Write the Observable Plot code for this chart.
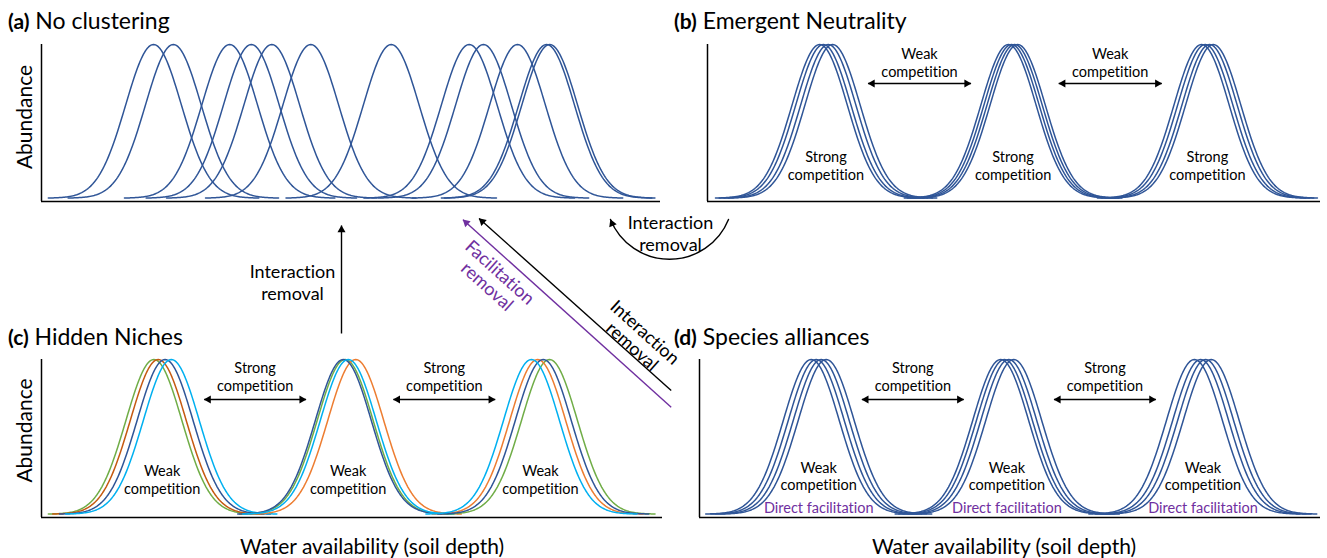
<!DOCTYPE html>
<html>
<head>
<meta charset="utf-8">
<script src="https://cdn.jsdelivr.net/npm/d3@7"></script>
<script src="https://cdn.jsdelivr.net/npm/@observablehq/plot@0.6"></script>
<style>
  html, body { margin: 0; padding: 0; background: #fff; }
  #fig { position: relative; width: 1327px; height: 558px; overflow: hidden; background: #fff; font-family: Lato, sans-serif; color: #000; }
  #fig, #fig * { font-variant-ligatures: none; font-feature-settings: "liga" 0, "clig" 0, "dlig" 0; }
  #fig svg { position: absolute; left: 0; top: 0; }
  .ttl { position: absolute; white-space: nowrap; font-size: 23px; line-height: 24px; }
  .ttl b { font-size: 21px; }
</style>
</head>
<body>
<div id="fig"></div>
<script>
const W = 1327, H = 558;
const FONT = "Lato, sans-serif";

// ---------- data (species optima along water availability, 0-100) ----------
const optimaNoClustering = [18.1, 21.3, 30.4, 33.9, 37.2, 43.5, 56.5, 69.1, 71.4, 76.9, 81.6, 82.1];

const optimaNeutralityCluster1 = [18.3, 18.9, 19.7, 20.4];
const optimaNeutralityCluster2 = [49.1, 49.6, 50.1, 50.6];
const optimaNeutralityCluster3 = [80.6, 81.2, 81.9, 82.5];

const hiddenSpecies = ["green", "orange", "navy", "light blue"];
const optimaHiddenCluster1 = [18.1, 18.8, 19.9, 20.9];
const optimaHiddenCluster2 = [48.9, 50.6, 48.6, 49.4];
const optimaHiddenCluster3 = [81.8, 79.9, 80.8, 78.9];

const optimaAllianceCluster1 = [18.0, 18.8, 19.6, 20.4];
const optimaAllianceCluster2 = [48.5, 49.1, 49.8, 50.6];
const optimaAllianceCluster3 = [79.7, 80.7, 81.5, 82.4];

const panelTitles = [["(a)", "No clustering"], ["(b)", "Emergent Neutrality"], ["(c)", "Hidden Niches"], ["(d)", "Species alliances"]];
const yLabel = "Abundance";
const xLabel = "Water availability (soil depth)";

// ---------- styles ----------
const BLUE = "#2f5597";
const PURPLE = "#7030a0";
const speciesColor = {"green": "#70ad47", "orange": "#ed7d31", "navy": "#2f5597", "light blue": "#00b0f0"};
const nicheWidth = 4.5;   // sd of each abundance curve (x units)
const tail = 17;
const Y0 = -0.022;
const LH = 1.2;

function bell(mu, id, color) {
  const pts = [];
  const lo = Math.max(0, mu - tail), hi = Math.min(100, mu + tail);
  for (let x = lo; x <= hi + 1e-9; x += 0.2) pts.push({id, color, x, y: Math.exp(-((x - mu) ** 2) / (2 * nicheWidth ** 2))});
  return pts;
}
const mean = a => a.reduce((s, v) => s + v, 0) / a.length;
const mids = c => [(c[0] + c[1]) / 2, (c[1] + c[2]) / 2];

function doubleArrows(ms, y, half) {
  const segs = ms.map(m => ({x1: m - half, x2: m + half, y}));
  return [
    Plot.link(segs, {x1: "x1", x2: "x2", y1: "y", y2: "y", stroke: "#000", strokeWidth: 1.5}),
    Plot.dot(segs, {x: "x1", y: "y", symbol: "triangle", rotate: -90, r: 3, fill: "#000", dx: 4.3}),
    Plot.dot(segs, {x: "x2", y: "y", symbol: "triangle", rotate: 90, r: 3, fill: "#000", dx: -4.3})
  ];
}
function labels(xs, y, text, opts = {}) {
  return Plot.text(xs.map(x => ({x, y})), {x: "x", y: "y", text: () => text, fontSize: 14.5, lineHeight: LH, lineAnchor: "bottom", textAnchor: "middle", fill: "#000", ...opts});
}

function panel(f, marks) {
  return Plot.plot({
    width: W, height: H,
    marginLeft: f.left, marginRight: W - f.right, marginTop: f.top, marginBottom: H - f.bottom,
    x: {domain: [0, 100], axis: null},
    y: {domain: [Y0, 1], axis: null},
    color: {type: "identity"},
    style: {background: "none", fontFamily: FONT, overflow: "visible"},
    marks: [
      Plot.ruleX([0], {stroke: "#000", strokeWidth: 1.5}),
      Plot.ruleY([Y0], {stroke: "#000", strokeWidth: 1.5}),
      ...marks
    ]
  });
}

const fig = document.getElementById("fig");

// (a)
const curvesA = optimaNoClustering.flatMap((m, i) => bell(m, "a" + i, BLUE));
fig.append(panel({left: 41, right: 660, top: 44, bottom: 201}, [
  Plot.line(curvesA, {x: "x", y: "y", z: "id", stroke: "color", strokeWidth: 1.5}),
  Plot.text([yLabel], {frameAnchor: "left", textAnchor: "middle", rotate: -90, dx: -16, dy: -6, fontSize: 21})
]));

// (b)
const clustersB = [optimaNeutralityCluster1, optimaNeutralityCluster2, optimaNeutralityCluster3];
const curvesB = clustersB.flatMap((c, j) => c.flatMap((m, i) => bell(m, `b${j}${i}`, BLUE)));
const centersB = clustersB.map(mean);
fig.append(panel({left: 707, right: 1320, top: 44, bottom: 201}, [
  Plot.line(curvesB, {x: "x", y: "y", z: "id", stroke: "color", strokeWidth: 1.5}),
  ...doubleArrows(mids(centersB), 0.746, 8.4),
  labels(mids(centersB), 0.79, "Weak\ncompetition"),
  labels(centersB, 0.121, "Strong\ncompetition")
]));

// (c)
const clustersC = [optimaHiddenCluster1, optimaHiddenCluster2, optimaHiddenCluster3];
const curvesC = clustersC.flatMap((c, j) => c.map((m, i) => bell(m, `c${j}${i}`,
  (j === 0 && hiddenSpecies[i] === "orange") ? "#c55a11" : speciesColor[hiddenSpecies[i]]))).flat();
const centersC = clustersC.map(mean);
fig.append(panel({left: 41, right: 662, top: 359, bottom: 517}, [
  Plot.line(curvesC, {x: "x", y: "y", z: "id", stroke: "color", strokeWidth: 1.5}),
  ...doubleArrows(mids(centersC), 0.741, 8.2),
  labels(mids(centersC), 0.799, "Strong\ncompetition"),
  labels(centersC, 0.133, "Weak\ncompetition"),
  Plot.text([yLabel], {frameAnchor: "left", textAnchor: "middle", rotate: -90, dx: -16, dy: -8, fontSize: 21}),
  Plot.text([xLabel], {frameAnchor: "bottom", textAnchor: "middle", lineAnchor: "bottom", dy: 36, dx: 20, fontSize: 21})
]));

// (d)
const clustersD = [optimaAllianceCluster1, optimaAllianceCluster2, optimaAllianceCluster3];
const curvesD = clustersD.flatMap((c, j) => c.flatMap((m, i) => bell(m, `d${j}${i}`, BLUE)));
const centersD = clustersD.map(mean);
fig.append(panel({left: 699, right: 1320, top: 359, bottom: 517}, [
  Plot.line(curvesD, {x: "x", y: "y", z: "id", stroke: "color", strokeWidth: 1.5}),
  ...doubleArrows(mids(centersD), 0.741, 8.2),
  labels(mids(centersD), 0.799, "Strong\ncompetition"),
  labels(centersD, 0.153, "Weak\ncompetition"),
  labels(centersD, 0.004, "Direct facilitation", {fill: PURPLE}),
  Plot.text([xLabel], {frameAnchor: "bottom", textAnchor: "middle", lineAnchor: "bottom", dy: 36, dx: -6, fontSize: 21})
]));

// ---------- transitions between panels (page coordinates) ----------
const transitions = [
  {x1: 341, y1: 333, x2: 341, y2: 225, color: "#000"},
  {x1: 670.7, y1: 390, x2: 478.6, y2: 218, color: "#000"},
  {x1: 670.7, y1: 406.7, x2: 462.5, y2: 219.3, color: PURPLE}
];
function headAt(x, y, dx, dy, color) {
  const L = Math.hypot(dx, dy), off = 4.3;
  return {x: x - dx / L * off, y: y - dy / L * off, rotate: Math.atan2(dx, -dy) * 180 / Math.PI, color};
}
const curved = {x1: 728, y1: 219, x2: 610, y2: 219, bend: 68};
const heads = transitions.map(t => headAt(t.x2, t.y2, t.x2 - t.x1, t.y2 - t.y1, t.color));
{
  const b = curved.bend * Math.PI / 180;
  heads.push(headAt(curved.x2, curved.y2, -Math.cos(b), -Math.sin(b), "#000"));
}
const notes = [
  {x: 292, y: 299, text: "Interaction\nremoval", color: "#000"},
  {x: 670, y: 250, text: "Interaction\nremoval", color: "#000"}
];
const rotNotes = [
  {x: 493, y: 279, text: "Facilitation\nremoval", color: PURPLE},
  {x: 638, y: 339, text: "Interaction\nremoval", color: "#000"}
];
fig.append(Plot.plot({
  width: W, height: H, margin: 0,
  x: {domain: [0, W], range: [0, W], axis: null},
  y: {domain: [0, H], range: [0, H], axis: null},
  color: {type: "identity"},
  style: {background: "none", fontFamily: FONT, overflow: "visible"},
  marks: [
    Plot.link(transitions, {x1: "x1", y1: "y1", x2: "x2", y2: "y2", stroke: "color", strokeWidth: 1.4}),
    Plot.arrow([curved], {x1: "x1", y1: "y1", x2: "x2", y2: "y2", bend: curved.bend, headLength: 0, stroke: "#000", strokeWidth: 1.4}),
    Plot.dot(heads, {x: "x", y: "y", rotate: "rotate", symbol: "triangle", r: 3, fill: "color"}),
    Plot.text(notes, {x: "x", y: "y", text: "text", fontSize: 18, lineHeight: LH, lineAnchor: "bottom", textAnchor: "middle", fill: "color"}),
    Plot.text(rotNotes, {x: "x", y: "y", text: "text", rotate: 42, fontSize: 18, lineHeight: 1.05, lineAnchor: "middle", textAnchor: "middle", fill: "color"})
  ]
}));

// ---------- panel titles ----------
const titlePos = [[8, 8], [674, 8], [8, 324], [674, 324]];
panelTitles.forEach(([tag, name], i) => {
  const d = document.createElement("div");
  d.className = "ttl";
  d.style.left = titlePos[i][0] + "px";
  d.style.top = titlePos[i][1] + "px";
  const b = document.createElement("b");
  b.textContent = tag;
  d.append(b, document.createTextNode(" " + name));
  fig.append(d);
});
</script>
</body>
</html>
